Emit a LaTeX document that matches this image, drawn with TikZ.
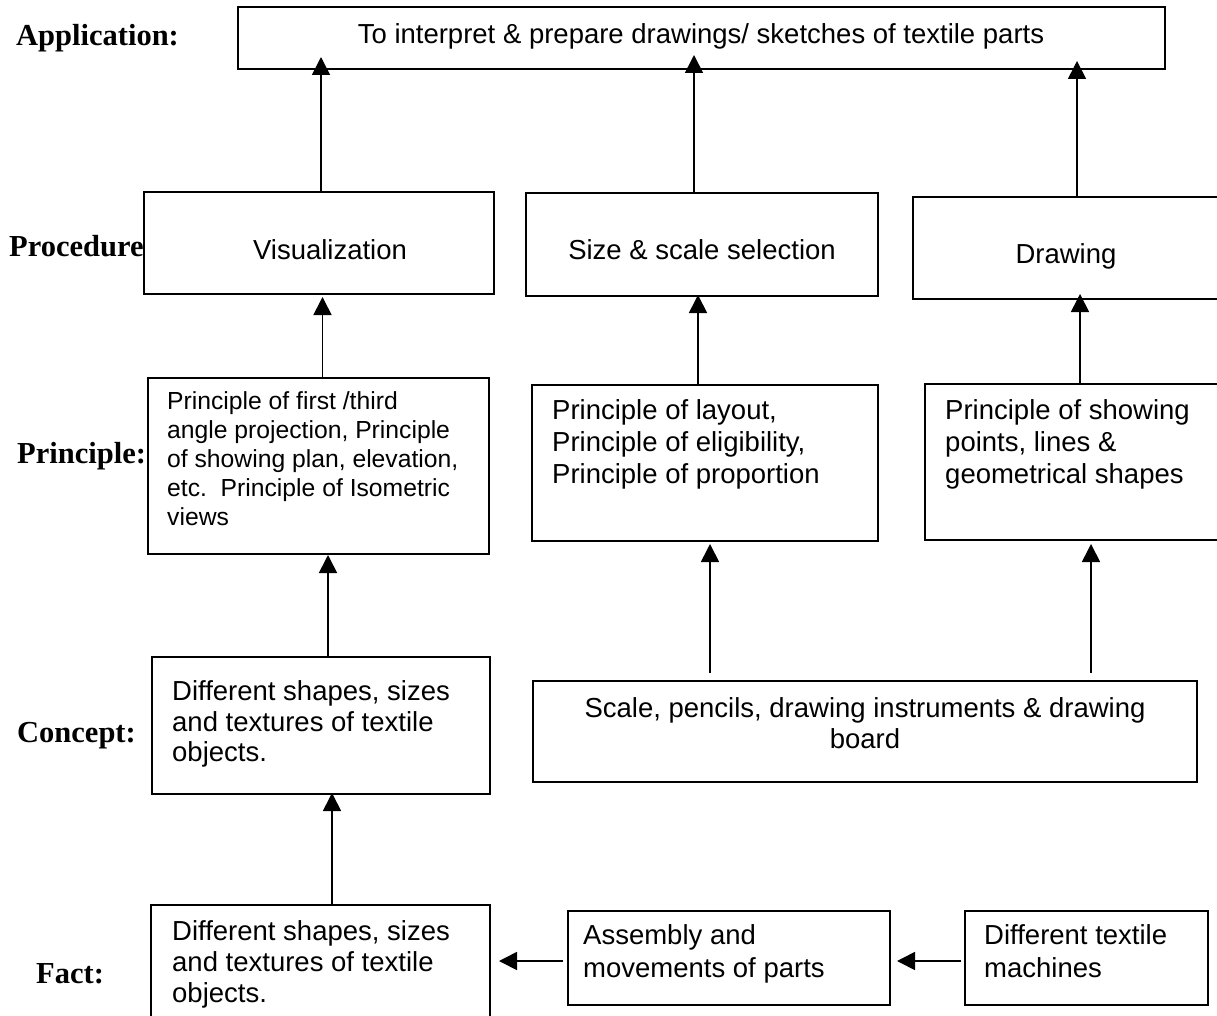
\documentclass[tikz,border=0pt]{standalone}
\usepackage{fontspec}
\setmainfont{Liberation Sans}
\newfontfamily\lblfont{Liberation Serif}
\usetikzlibrary{arrows.meta,calc}
\begin{document}
\begin{tikzpicture}[x=1pt,y=-1pt,
  box/.style={draw=black, line width=1.7pt, inner sep=0pt, outer sep=0pt},
  txt/.style={inner sep=0pt, align=left, font=\fontsize{27.5}{32}\selectfont},
  lbl/.style={inner sep=0pt, anchor=base west, font=\lblfont\bfseries\fontsize{30.5}{36}\selectfont},
  arr/.style={line width=1.7pt, -{Triangle[length=18pt,width=18pt]}}]
\useasboundingbox (0,0) rectangle (1217,1016);
\fill[white] (0,0) rectangle (1217,1016);
\clip (0,0) rectangle (1217,1016);
% boxes
\node[box, minimum width=927pt, minimum height=62pt] (top) at (701.5,38) {};
\node[box, minimum width=350pt, minimum height=102pt] (vis) at (319,243) {};
\node[box, minimum width=352pt, minimum height=103pt] (size) at (702,244.5) {};
\node[box, minimum width=312pt, minimum height=102pt] (drw) at (1069,248) {};
\node[box, minimum width=341pt, minimum height=176pt] (p1) at (318.5,466) {};
\node[box, minimum width=346pt, minimum height=156pt] (p2) at (705,463) {};
\node[box, minimum width=300pt, minimum height=156pt] (p3) at (1075,462) {};
\node[box, minimum width=338pt, minimum height=137pt] (c1) at (321,725.5) {};
\node[box, minimum width=664pt, minimum height=101pt] (sc) at (865,731.5) {};
\node[box, minimum width=339pt, minimum height=135pt] (f1) at (320.5,972.5) {};
\node[box, minimum width=322pt, minimum height=94pt] (f2) at (729,958) {};
\node[box, minimum width=243pt, minimum height=94pt] (f3) at (1086.5,958) {};
% texts
\node[txt, anchor=center] (top-t) at (701,36) {To interpret \& prepare drawings/ sketches of textile parts};
\node[txt, anchor=center] (vis-t) at (330,250) {Visualization};
\node[txt, anchor=center] (size-t) at (702,250) {Size \& scale selection};
\node[txt, anchor=center] (drw-t) at (1066,256) {Drawing};
\node[txt, font=\fontsize{24.7}{29.2}\selectfont, anchor=north west] (p1-t) at (167,391) {Principle of first /third\\angle projection, Principle\\of showing plan, elevation,\\etc.\ \ Principle of Isometric\\views};
\node[txt, anchor=north west] (p2-t) at (552,399.5) {Principle of layout,\\Principle of eligibility,\\Principle of proportion};
\node[txt, anchor=north west] (p3-t) at (945,399.5) {Principle of showing\\points, lines \&\\geometrical shapes};
\node[txt, font=\fontsize{27.5}{30.5}\selectfont, anchor=north west] (c1-t) at (172,680.5) {Different shapes, sizes\\and textures of textile\\objects.};
\node[txt, font=\fontsize{27.5}{30.5}\selectfont, anchor=north, align=center] (sc-t) at (865,697.5) {Scale, pencils, drawing instruments \& drawing\\board};
\node[txt, font=\fontsize{27.5}{31}\selectfont, anchor=north west] (f1-t) at (172,920.5) {Different shapes, sizes\\and textures of textile\\objects.};
\node[txt, font=\fontsize{27.5}{33}\selectfont, anchor=north west] (f2-t) at (583,924.5) {Assembly and\\movements of parts};
\node[txt, font=\fontsize{27.5}{33}\selectfont, anchor=north west] (f3-t) at (984,924.5) {Different textile\\machines};
% level labels
\node[lbl] (l-app) at (16,46) {Application:};
\node[lbl] (l-proc) at (9,257) {Procedure};
\node[lbl] (l-prin) at (17,463) {Principle:};
\node[lbl] (l-conc) at (17,742) {Concept:};
\node[lbl] (l-fact) at (36,983) {Fact:};
% arrows
\draw[arr] ($(vis.north)+(2,0)$) -- ($(vis.north |- top.south)+(2,-12)$);
\draw[arr] ($(size.north)+(-8,0)$) -- ($(size.north |- top.south)+(-8,-14)$);
\draw[arr] ($(drw.north)+(8,0)$) -- ($(drw.north |- top.south)+(8,-8)$);
\draw[arr] ($(p1.north)+(4,0)$) -- ($(p1.north |- vis.south)+(4,3)$);
\draw[arr] ($(p2.north)+(-7,0)$) -- ($(p2.north |- size.south)+(-7,-1)$);
\draw[arr] ($(p3.north)+(5,0)$) -- ($(p3.north |- drw.south)+(5,-5)$);
\draw[arr] ($(c1.north)+(7,0)$) -- ($(c1.north |- p1.south)+(7,1)$);
\draw[arr] ($(f1.north)+(11.5,0)$) -- ($(f1.north |- c1.south)+(11.5,-1)$);
\draw[arr] ($(sc.north)+(-155,-8)$) -- ($(sc.north |- p2.south)+(-155,3)$);
\draw[arr] ($(sc.north)+(226,-8)$) -- ($(sc.north |- p3.south)+(226,4)$);
\draw[arr] ($(f3.west)+(-4,3)$) -- ($(f2.east)+(7,3)$);
\draw[arr] ($(f2.west)+(-5,3)$) -- ($(f1.east |- f2.west)+(9,3)$);
\end{tikzpicture}
\end{document}
